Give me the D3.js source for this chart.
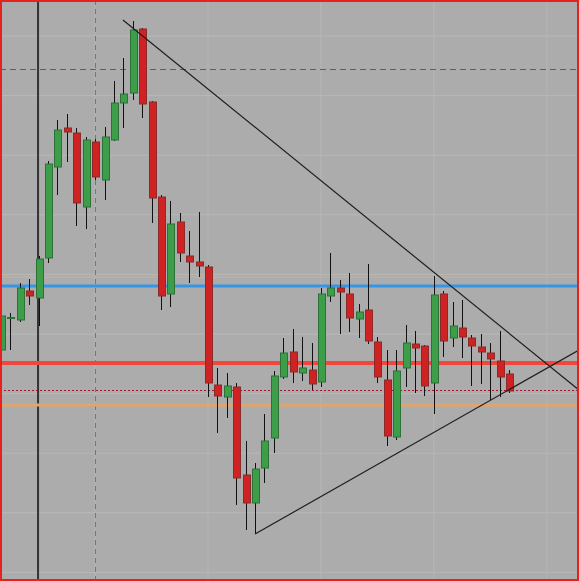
<!DOCTYPE html>
<html><head><meta charset="utf-8">
<script src="https://cdn.jsdelivr.net/npm/d3@7/dist/d3.min.js"></script>
<style>html,body{margin:0;padding:0;background:#acacac;overflow:hidden}</style>
</head><body><div id="chart"></div>
<script>
// OHLC data (index = bar number)
const opens  = [1.3231,1.32625,1.3261,1.3290,1.3283,1.3323,1.3414,1.3453,1.3448,1.3374,1.3439,1.3401,1.3441,1.3478,1.3488,1.3552,1.3479,1.3384,1.3287,1.3359,1.3325,1.3319,1.3314,1.3196,1.3184,1.3194,1.3106,1.3078,1.3113,1.3143,1.3204,1.3229,1.3208,1.3211,1.3199,1.3285,1.3293,1.3287,1.3262,1.3271,1.3239,1.3201,1.3144,1.3213,1.3237,1.3235,1.3198,1.3287,1.3243,1.3253,1.3243,1.3234,1.3228,1.3220,1.3207];
const highs  = [1.3269,1.3268,1.3298,1.3302,1.3325,1.3420,1.3461,1.3467,1.3453,1.3444,1.3442,1.3454,1.3500,1.3523,1.3560,1.3553,1.3480,1.3386,1.3380,1.3368,1.3350,1.3369,1.3316,1.3213,1.3208,1.3198,1.3140,1.3118,1.3167,1.3210,1.3243,1.3252,1.3244,1.3238,1.3293,1.3328,1.3301,1.3308,1.3277,1.3317,1.3244,1.3231,1.3231,1.3256,1.3250,1.3236,1.3305,1.3290,1.3279,1.3281,1.3246,1.3247,1.3238,1.3250,1.3211];
const lows   = [1.3229,1.3231,1.3259,1.3276,1.3255,1.3318,1.3386,1.3419,1.3355,1.3352,1.3401,1.3381,1.3440,1.3453,1.3481,1.3463,1.3358,1.3271,1.3274,1.3319,1.3298,1.3304,1.3184,1.3148,1.3163,1.3076,1.3051,1.3047,1.3098,1.3128,1.3202,1.3198,1.3200,1.3191,1.3194,1.3279,1.3247,1.3249,1.3243,1.3237,1.3198,1.3135,1.3141,1.3194,1.3188,1.3185,1.3167,1.3224,1.3234,1.3223,1.3195,1.3197,1.3181,1.3184,1.3188];
const closes = [1.3265,1.32635,1.3293,1.3285,1.3322,1.3417,1.3451,1.3449,1.3378,1.3441,1.3404,1.3444,1.3478,1.3487,1.3551,1.3477,1.3383,1.3285,1.3357,1.3328,1.3319,1.3315,1.3198,1.3185,1.3195,1.3103,1.3078,1.3112,1.3140,1.3205,1.3228,1.3209,1.3213,1.3197,1.3287,1.3293,1.3289,1.3263,1.3269,1.3240,1.3204,1.3145,1.3210,1.3238,1.3233,1.3195,1.3286,1.3240,1.3255,1.3244,1.3235,1.3229,1.3222,1.3204,1.3190];

// horizontal grid levels and vertical grid bars
const gridPrices = [1.3545,1.34854,1.34258,1.33662,1.33066,1.3247,1.31874,1.31278,1.30682,1.30086];
const gridBars = [10,22,34,46,58];

// horizontal levels
const levelBlue = 1.3295, levelRed = 1.3218, levelDotted = 1.3191, levelOrange = 1.3176, levelDashed = 1.3512, levelSalmon = 1.3304;
// vertical markers
const vBlackBar = 4, vDashedBar = 10;
// trend lines [bar, price]
const trendDown = [[12.96,1.3561],[61.42,1.3191]];
const trendUp   = [[27.0,1.3047],[61.42,1.3231]];

const W = 579, H = 581;
const x = d3.scaleLinear().domain([0,54]).range([1,509.1]);
const y = d3.scaleLinear().domain([1.3,1.3581]).range([H,0]);

const svg = d3.select('#chart').append('svg').attr('width',W).attr('height',H)
  .style('display','block');
svg.append('rect').attr('width',W).attr('height',H).attr('fill','#acacac');

// grid
svg.append('g').selectAll('line').data(gridPrices).join('line')
  .attr('x1',0).attr('x2',W).attr('y1',d=>y(d)).attr('y2',d=>y(d))
  .attr('stroke','#b9b9b9').attr('stroke-width',1);
svg.append('g').selectAll('line').data(gridBars).join('line')
  .attr('y1',0).attr('y2',H).attr('x1',d=>x(d)).attr('x2',d=>x(d))
  .attr('stroke','#b6b6b6').attr('stroke-width',1);
svg.append('line').attr('x1',0).attr('x2',W).attr('y1',y(levelSalmon)).attr('y2',y(levelSalmon))
  .attr('stroke','#c2b2a8').attr('stroke-width',1);

// vertical markers
svg.append('line').attr('x1',Math.round(x(vDashedBar))+0.5).attr('x2',Math.round(x(vDashedBar))+0.5).attr('y1',0).attr('y2',H)
  .attr('stroke','#6c7590').attr('stroke-width',1).attr('stroke-dasharray','5,4');
svg.append('line').attr('x1',x(vBlackBar)-0.6).attr('x2',x(vBlackBar)-0.6).attr('y1',0).attr('y2',H)
  .attr('stroke','#333').attr('stroke-width',2);

// dashed horizontal
svg.append('line').attr('x1',0).attr('x2',W).attr('y1',Math.round(y(levelDashed))+0.5).attr('y2',Math.round(y(levelDashed))+0.5)
  .attr('stroke','#5e5e5e').attr('stroke-width',1).attr('stroke-dasharray','6,4');

// horizontal levels
svg.append('line').attr('x1',0).attr('x2',W).attr('y1',y(levelOrange)).attr('y2',y(levelOrange))
  .attr('stroke','#e3a468').attr('stroke-width',3);
svg.append('line').attr('x1',0).attr('x2',W).attr('y1',y(levelBlue)).attr('y2',y(levelBlue))
  .attr('stroke','#3496e6').attr('stroke-width',3);
svg.append('line').attr('x1',0).attr('x2',W).attr('y1',y(levelRed)).attr('y2',y(levelRed))
  .attr('stroke','#f0463c').attr('stroke-width',4);
svg.append('line').attr('x1',0).attr('x2',W).attr('y1',Math.round(y(levelDotted))+0.5).attr('y2',Math.round(y(levelDotted))+0.5)
  .attr('stroke','#a8102c').attr('stroke-width',1).attr('stroke-dasharray','2,2');

// candles
const data = opens.map((o,i)=>({i,o,h:highs[i],l:lows[i],c:closes[i]}));
const g = svg.append('g');
g.selectAll('line.wick').data(data).join('line').attr('class','wick')
  .attr('x1',d=>Math.round(x(d.i))+0.5).attr('x2',d=>Math.round(x(d.i))+0.5)
  .attr('y1',d=>y(d.h)).attr('y2',d=>y(d.l))
  .attr('stroke','#111').attr('stroke-width',1);
g.selectAll('rect.body').data(data).join('rect').attr('class','body')
  .attr('x',d=>Math.round(x(d.i))-3+0.5)
  .attr('width',7)
  .attr('y',d=>y(Math.max(d.o,d.c)))
  .attr('height',d=>Math.max(1,Math.abs(y(d.o)-y(d.c))))
  .attr('fill',d=>d.c>=d.o?'#3d9e4a':'#cf2222')
  .attr('stroke',d=>d.c>=d.o?'#2f6f38':'#8a2a2a').attr('stroke-width',1);

// trend lines
const line = d3.line().x(d=>x(d[0])).y(d=>y(d[1]));
svg.append('path').attr('d',line(trendDown)).attr('fill','none').attr('stroke','#1e1e1e').attr('stroke-width',1.2);
svg.append('path').attr('d',line(trendUp)).attr('fill','none').attr('stroke','#1e1e1e').attr('stroke-width',1.2);

// border
svg.append('rect').attr('x',1).attr('y',1).attr('width',W-2).attr('height',H-2)
  .attr('fill','none').attr('stroke','#e8201e').attr('stroke-width',2);
</script></body></html>
